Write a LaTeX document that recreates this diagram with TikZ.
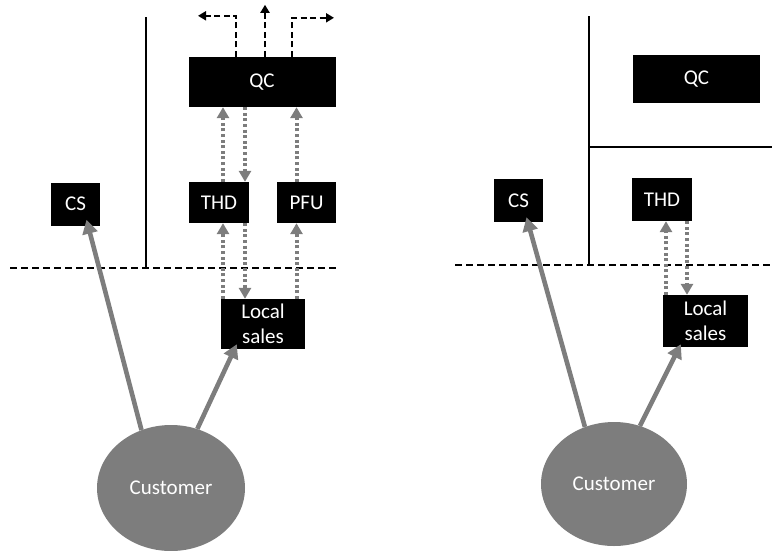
\documentclass[tikz,border=0pt]{standalone}
\usepackage{fontspec}
\setmainfont{Carlito}
\usetikzlibrary{arrows.meta,shapes.geometric}
\definecolor{flowgray}{RGB}{125,125,125}
\tikzset{
  box/.style={fill=black, text=white, inner sep=0pt, font=\fontsize{21}{25}\selectfont, align=center},
  cust/.style={ellipse, fill=flowgray, text=white, minimum width=148pt, minimum height=126pt, inner sep=0pt, font=\fontsize{21}{25}\selectfont},
  bound/.style={black, line width=2.3pt},
  zone/.style={black, line width=2.3pt, dash pattern=on 7pt off 4pt},
  exitflow/.style={black, line width=2.3pt, dash pattern=on 6pt off 3.5pt, -{Triangle[length=8pt,width=9pt]}},
  relay/.style={flowgray, line width=4pt, dash pattern=on 3pt off 2.6pt, -{Triangle[length=11pt,width=12pt]}},
  contact/.style={flowgray, line width=4.6pt, -{Triangle[length=14pt,width=15pt]}}
}
\begin{document}
\begin{tikzpicture}[x=1pt,y=-1pt]
\useasboundingbox (0,0) rectangle (772,550);

% ---- left organisation ----
\draw[bound] (146,17) -- (146,268);
\draw[zone] (10,268) -- (337,268);

\node[box, minimum width=147pt, minimum height=50pt] (qcA) at (262,82) {QC};
\node[box, minimum width=49pt, minimum height=43pt] (csA) at (75.5,204) {CS};
\node[box, minimum width=60pt, minimum height=41pt] (thdA) at (219,202.5) {THD};
\node[box, minimum width=59pt, minimum height=41pt] (pfuA) at (306.5,202.5) {PFU};
\node[box, minimum width=84pt, minimum height=50pt] (lsA) at (263,324) {Local\\sales};
\node[cust] (cuA) at (171,488) {Customer};

% outputs leaving QC
\draw[exitflow] ([xshift=-26pt]qcA.north) -- ++(0,-41) -- ++(-38,0);
\draw[exitflow] ([xshift=3pt]qcA.north) -- ++(0,-52);
\draw[exitflow] ([xshift=30pt]qcA.north) -- ++(0,-39) -- ++(42,0);

% internal hand-offs
\draw[relay] ([xshift=4pt]thdA.north) -- ([xshift=4pt]thdA.north |- qcA.south);
\draw[relay] ([xshift=26pt]thdA.north |- qcA.south) -- ([xshift=26pt]thdA.north);
\draw[relay] ([xshift=-10pt]pfuA.north) -- ([xshift=-10pt]pfuA.north |- qcA.south);
\draw[relay] ([xshift=4pt]thdA.south |- lsA.north) -- ([xshift=4pt]thdA.south);
\draw[relay] ([xshift=26pt]thdA.south) -- ([xshift=26pt]thdA.south |- lsA.north);
\draw[relay] ([xshift=-10pt]pfuA.south |- lsA.north) -- ([xshift=-10pt]pfuA.south);

% customer contacts
\draw[contact] (cuA.117) -- ([xshift=11pt,yshift=6pt]csA.south);
\draw[contact] (cuA.66) -- ([xshift=16pt,yshift=5pt]lsA.south west);

% ---- right organisation ----
\draw[bound] (589,16) -- (589,265);
\draw[bound] (589,147) -- (772,147);
\draw[zone] (455,265) -- (772,265);

\node[box, minimum width=127pt, minimum height=48pt] (qcB) at (696.5,79) {QC};
\node[box, minimum width=49pt, minimum height=43pt] (csB) at (518.5,200.5) {CS};
\node[box, minimum width=60pt, minimum height=43pt] (thdB) at (662,199.5) {THD};
\node[box, minimum width=85pt, minimum height=52pt] (lsB) at (705.5,321) {Local\\sales};
\node[cust, minimum width=146pt, minimum height=124pt] (cuB) at (614,484) {Customer};

\draw[relay] ([xshift=4pt]thdB.south |- lsB.north) -- ([xshift=4pt]thdB.south);
\draw[relay] ([xshift=25pt]thdB.south) -- ([xshift=25pt]thdB.south |- lsB.north);

\draw[contact] (cuB.117) -- ([xshift=8pt,yshift=5pt]csB.south);
\draw[contact] (cuB.66) -- ([xshift=18pt,yshift=3pt]lsB.south west);
\end{tikzpicture}
\end{document}
